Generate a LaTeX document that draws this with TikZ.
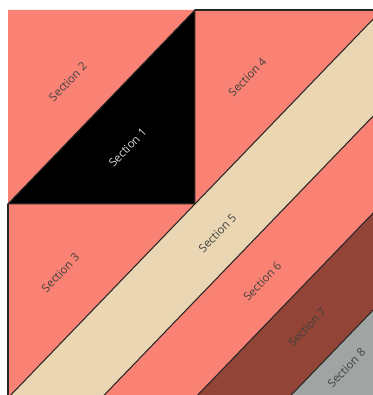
\documentclass[tikz,border=0pt]{standalone}
\usepackage{fontspec}
\setsansfont{Open Sans}
\usepackage{xcolor}

\definecolor{secsalmon}{RGB}{250,130,116}
\definecolor{secbeige}{RGB}{234,214,178}
\definecolor{secbrown}{RGB}{146,68,54}
\definecolor{secgray}{RGB}{160,164,163}

\begin{document}
\begin{tikzpicture}[
        x=3.74cm, y=3.88cm,
        edge/.style={draw=black!85, line width=0.6pt},
        seclabel/.style={
            font=\sffamily\fontsize{6.5}{7}\selectfont, text=black!75,
            rotate=46, inner sep=0pt
        }
    ]

    % Page frame
    \useasboundingbox (-0.0428, 0.015) rectangle (1.952, 2.0515);
    \clip (-0.0428, 0.015) rectangle (1.952, 2.0515);

    % Top left square
    \fill[secsalmon] (0, 1) -- (0, 2) -- (1, 2) -- cycle;
    \fill[black] (0, 1) -- (1, 2) -- (1, 1) -- cycle;

    % Triangles beside the square
    \fill[secsalmon] (1, 1) -- (1, 2) -- (2, 2) -- cycle;
    \fill[secsalmon] (0, 0) -- (0, 1) -- (1, 1) -- cycle;

    % Diagonal bands
    \fill[secbeige] (0, 0) -- (2, 2) -- (2, 1.5) -- (0.5, 0) -- cycle;
    \fill[secsalmon] (0.5, 0) -- (2, 1.5) -- (2, 1) -- (1, 0) -- cycle;
    \fill[secbrown] (1, 0) -- (2, 1) -- (2, 0.5) -- (1.5, 0) -- cycle;
    \fill[secgray] (1.5, 0) -- (2, 0.5) -- (2, 0) -- cycle;

    % Border lines
    \draw[edge] (1, 2) -- (2, 2);
    \draw[edge] (0, 0) -- (0, 1);
    \draw[edge] (0, 1) -- (1, 1) -- (1, 2) -- cycle;
    \draw[edge] (0, 0) -- (2, 2);
    \draw[edge] (0.5, 0) -- (2, 1.5);
    \draw[edge] (1, 0) -- (2, 1);
    \draw[edge] (1.5, 0) -- (2, 0.5);

    % Labels
    \node[seclabel, text=white!85!black] (sec1) at (0.64, 1.29) {Section 1};
    \node[seclabel] (sec2) at (0.32, 1.63) {Section 2};
    \node[seclabel] (sec3) at (0.28, 0.645) {Section 3};
    \node[seclabel] (sec4) at (1.28, 1.655) {Section 4};
    \node[seclabel] (sec5) at (1.12, 0.85) {Section 5};
    \node[seclabel] (sec6) at (1.36, 0.60) {Section 6};
    \node[seclabel] (sec7) at (1.60, 0.366) {Section 7};
    \node[seclabel] (sec8) at (1.81, 0.155) {Section 8};

    \end{tikzpicture}
\end{document}
